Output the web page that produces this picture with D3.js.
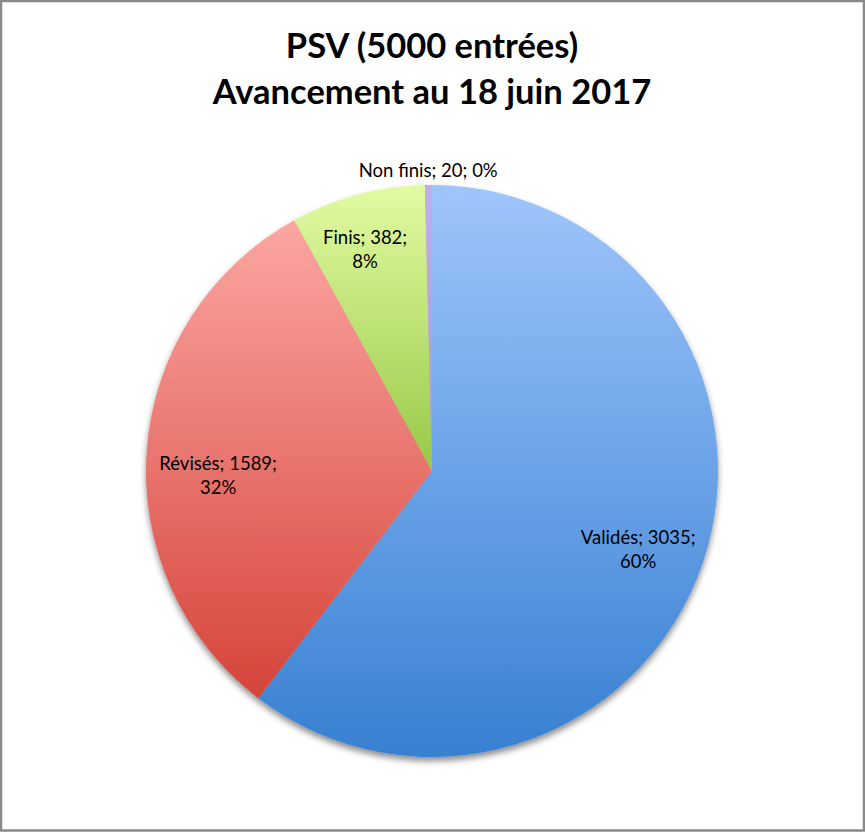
<!DOCTYPE html>
<html>
<head>
<meta charset="utf-8">
<script src="https://d3js.org/d3.v7.min.js"></script>
<style>
  html, body { margin: 0; padding: 0; background: #fff; }
  svg { display: block; }
</style>
</head>
<body>
<svg id="chart" width="865" height="832"></svg>
<script>
// chart data
var categories = ["Validés", "Révisés", "Finis", "Non finis"];
var values = [3035, 1589, 382, 20];
var percents = ["60%", "32%", "8%", "0%"];
var titleLines = ["PSV (5000 entrées)", "Avancement au 18 juin 2017"];

// gradient colours per slice (top, bottom)
var colorsTop = ["#9fc5fc", "#fca6a2", "#e2fba2", "#c0b0ea"];
var colorsBottom = ["#3780d2", "#d5443a", "#98c847", "#a896d8"];

// label nudges from the arc centroid (Excel "best fit" placement)
var labelNudge = [[3, 10], [0, 21], [-11, -14], [0, 0]];

var width = 865,
  height = 832,
  cx = 432,
  cy = 471,
  radius = 286

var svg = d3.select("#chart")
var defs = svg.append("defs")

// frame
svg.append("rect")
  .attr("x", 1).attr("y", 1)
  .attr("width", width - 2).attr("height", height - 2.5)
  .attr("fill", "#fff")
  .attr("stroke", "#898989")
  .attr("stroke-width", 2.5)

categories.forEach(function (c, i) {
  var g = defs.append("linearGradient")
    .attr("id", "grad" + i)
    .attr("x1", 0).attr("y1", 0).attr("x2", 0).attr("y2", 1)
  g.append("stop").attr("offset", "0%").attr("stop-color", colorsTop[i])
  g.append("stop").attr("offset", "100%").attr("stop-color", colorsBottom[i])
});

var shadow = defs.append("filter").attr("id", "shadow")
  .attr("x", "-10%").attr("y", "-10%").attr("width", "120%").attr("height", "125%")
shadow.append("feDropShadow")
  .attr("dx", 0).attr("dy", 4).attr("stdDeviation", 3)
  .attr("flood-color", "#000").attr("flood-opacity", 0.45)

// title
svg.append("g").selectAll("text")
  .data(titleLines)
  .enter().append("text")
  .attr("x", cx)
  .attr("y", function (d, i) { return 58 + i * 46; })
  .attr("text-anchor", "middle")
  .attr("font-family", "Lato, 'Open Sans', sans-serif")
  .attr("font-weight", "bold")
  .attr("font-size", 34.5)
  .attr("fill", "#000")
  .text(function (d) { return d; });

var data = categories.map(function (c, i) {
  return { name: c, value: values[i], pct: percents[i], idx: i };
});

var pie = d3.pie().sort(null).value(function (d) { return d.value; })
var arcs = pie(data)

var arc = d3.arc().innerRadius(0).outerRadius(radius)
var labelArc = d3.arc().innerRadius(radius * 0.75).outerRadius(radius * 0.75)
var outerArc = d3.arc().innerRadius(radius + 15).outerRadius(radius + 15)

var pieG = svg.append("g")
  .attr("transform", "translate(" + cx + "," + cy + ")")

pieG.append("g").attr("filter", "url(#shadow)")
  .selectAll("path")
  .data(arcs)
  .enter().append("path")
  .attr("d", arc)
  .attr("fill", function (d) { return "url(#grad" + d.data.idx + ")"; })

// labels
var labelG = pieG.append("g")
  .attr("font-family", "Lato, 'Open Sans', sans-serif")
  .attr("font-size", 18.5)
  .attr("fill", "#000")

arcs.forEach(function (d) {
  var n = labelNudge[d.data.idx]
  if (d.endAngle - d.startAngle < 0.1) {
    var p = outerArc.centroid(d)
    labelG.append("text")
      .attr("x", p[0] + n[0]).attr("y", p[1] + n[1])
      .attr("text-anchor", "middle")
      .attr("dy", "0.35em")
      .text(d.data.name + "; " + d.data.value + "; " + d.data.pct)
  } else {
    var p = labelArc.centroid(d)
    var t = labelG.append("text")
      .attr("text-anchor", "middle")
    t.append("tspan").attr("x", p[0] + n[0]).attr("y", p[1] + n[1] - 6)
      .text(d.data.name + "; " + d.data.value + ";")
    t.append("tspan").attr("x", p[0] + n[0]).attr("y", p[1] + n[1] + 18)
      .text(d.data.pct)
  }
});
</script>
</body>
</html>
